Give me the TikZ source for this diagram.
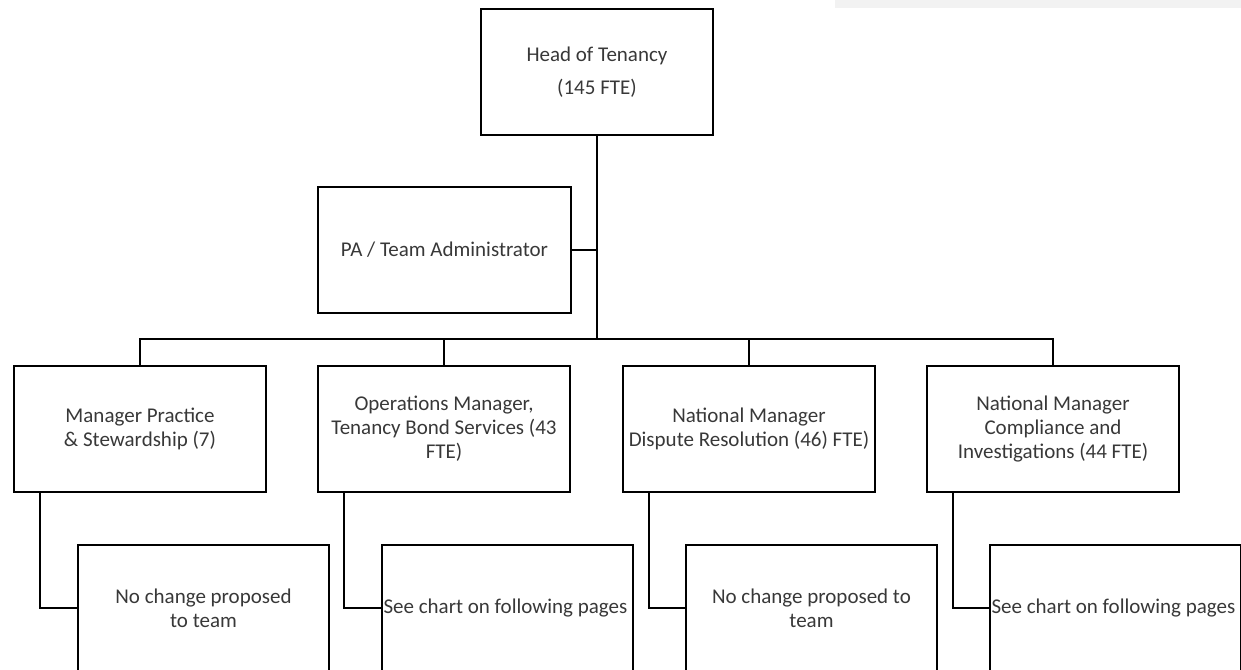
\documentclass[tikz,border=0pt]{standalone}
\usepackage{fontspec}
\setmainfont{Carlito}
\definecolor{bandgrey}{HTML}{F2F2F2}
\definecolor{inkgrey}{HTML}{383838}
\begin{document}
\begin{tikzpicture}[x=0.75pt,y=-0.75pt,
  box/.style={draw=black,line width=1.2pt,outer sep=0pt,inner sep=1pt,
    minimum width=252*0.75pt,minimum height=126*0.75pt,align=center,
    text=inkgrey,font=\fontsize{15.75pt}{18pt}\selectfont},
  leafbox/.style={box,minimum width=251*0.75pt},
  link/.style={draw=black,line width=1.6pt,line cap=rect}]
\useasboundingbox (0,0) rectangle (1241,669);
\fill[bandgrey] (835,0) rectangle (1241,8);

% top of the chart
\node[box,minimum width=232*0.75pt] (head) at (597,72) {Head of Tenancy\\[6.75pt](145 FTE)};
\node[box,minimum width=253*0.75pt] (pa) at (444.5,250) {PA / Team Administrator};

% managers
\node[box] (m1) at (140,429) {Manager Practice\\\& Stewardship (7)};
\node[box] (m2) at (444,429) {Operations Manager,\\Tenancy Bond Services (43\\FTE)};
\node[box] (m3) at (749,429) {National Manager\\Dispute Resolution (46) FTE)};
\node[box] (m4) at (1053,429) {National Manager\\Compliance and\\Investigations (44 FTE)};

% teams below each manager
\node[leafbox] (t1) at (203.5,608) {No change proposed\\to team};
\node[leafbox] (t2) at (507.5,608) {\makebox[186pt][l]{See chart on following pages}};
\node[leafbox] (t3) at (811.5,608) {No change proposed to\\team};
\node[leafbox] (t4) at (1115.5,608) {\makebox[186pt][l]{See chart on following pages}};

% connectors
\coordinate (bus) at (597,339);
\draw[link] (head.south) -- (bus);
\draw[link] (pa.east) -- (pa.east -| head.south);
\draw[link] (m1.north) |- (bus) -| (m4.north);
\draw[link] (m2.north) -- (m2.north |- bus);
\draw[link] (m3.north) -- (m3.north |- bus);
\foreach \i in {1,2,3,4}{
  \draw[link] ([xshift=26*0.75pt]m\i.south west) |- (t\i.west);
}
\end{tikzpicture}
\end{document}
